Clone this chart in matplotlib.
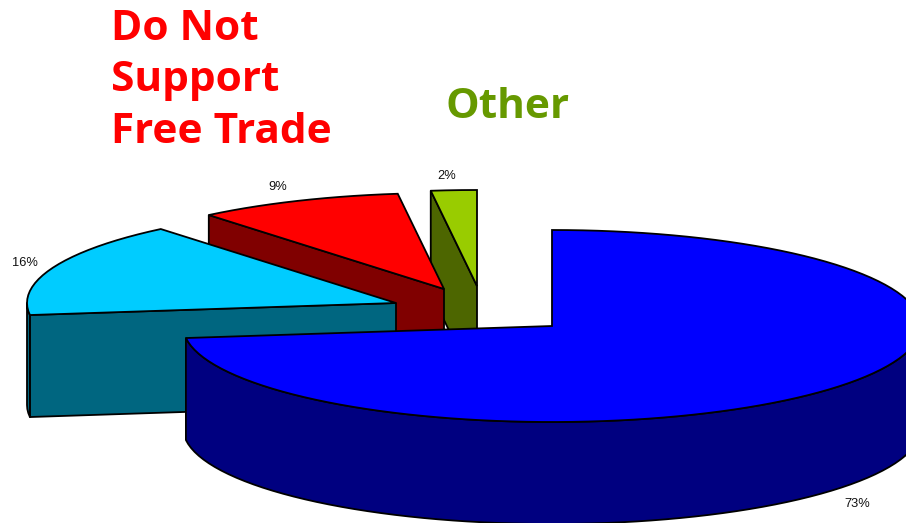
# -*- coding: UTF-8 -*-
import numpy as np
import matplotlib
matplotlib.use('Agg')
import matplotlib.pyplot as plt

names = ['Support', 'Neutral', 'Do Not Support', 'Other']
shares = [73, 16, 9, 2]
share_labels = ['73%', '16%', '9%', '2%']

# slice apex in pixels (the slices are pulled apart), top colour, side colour
apex_x = [552, 396, 444, 477]
apex_y = [326, 303, 289, 286]
top_colors = ['#0000ff', '#00ccff', '#ff0000', '#99cc00']
side_colors = ['#000080', '#006680', '#800000', '#4d6600']
label_pos = [(857, 504), (25, 263), (278, 187), (447, 176)]
draw_order = [3, 2, 1, 0]

RX, RY, DEPTH = 369, 96, 102
LW = 1.3


def rim(cx, cy, a0, a1):
    # short chords, the smallest slice comes out nearly straight like the original
    n = max(2, int(round((a1 - a0) / 2.4)) + 1)
    t = np.radians(np.linspace(a0, a1, n))
    return cx + RX * np.sin(t), cy - RY * np.cos(t)


fig = plt.figure(figsize=(9.06, 5.23), dpi=100)
ax = fig.add_axes([0, 0, 1, 1])
ax.set_xlim(0, 906)
ax.set_ylim(523, 0)
ax.axis('off')

edges = np.cumsum([0] + shares) / sum(shares) * 360

for z, i in enumerate(draw_order):
    a0, a1 = edges[i], edges[i + 1]
    cx, cy = apex_x[i], apex_y[i]
    x, y = rim(cx, cy, a0, a1)
    z0 = z * 10

    # cut face at the start of the slice, the blue one has none facing front
    if i != 0:
        ex, ey = rim(cx, cy, a0, a0 + 1e-6)
        ax.fill([cx, ex[0], ex[0], cx], [cy, ey[0], ey[0] + DEPTH, cy + DEPTH],
                facecolor=side_colors[i], edgecolor='black', lw=LW, zorder=z0 + 1,
                joinstyle='round')

    # outer wall, only the part that faces the front (90 to 270 deg)
    lo, hi = max(a0, 90), min(a1, 270)
    if lo < hi:
        wx, wy = rim(cx, cy, lo, hi)
        ax.fill(np.r_[wx, wx[::-1]], np.r_[wy, wy[::-1] + DEPTH],
                facecolor=side_colors[i], edgecolor='black', lw=LW, zorder=z0 + 2,
                joinstyle='round')

    # top face
    ax.fill(np.r_[cx, x], np.r_[cy, y], facecolor=top_colors[i], edgecolor='black',
            lw=LW, zorder=z0 + 3, joinstyle='miter')

for txt, pos in zip(share_labels, label_pos):
    ax.text(pos[0], pos[1], txt, fontsize=9.3, family='Liberation Sans',
            color='#111111', ha='center', va='center', zorder=100)

big = dict(fontsize=30.5, family='Open Sans', fontweight='bold', va='baseline', ha='left', zorder=100)
ax.text(111, 40, 'Do Not', color='#ff0000', **big)
ax.text(111, 91, 'Support', color='#ff0000', **big)
ax.text(111, 143, 'Free Trade', color='#ff0000', **big)
ax.text(445, 118, 'Other', color='#669900', **big)

fig.savefig('out.png', dpi=100, facecolor='white')
